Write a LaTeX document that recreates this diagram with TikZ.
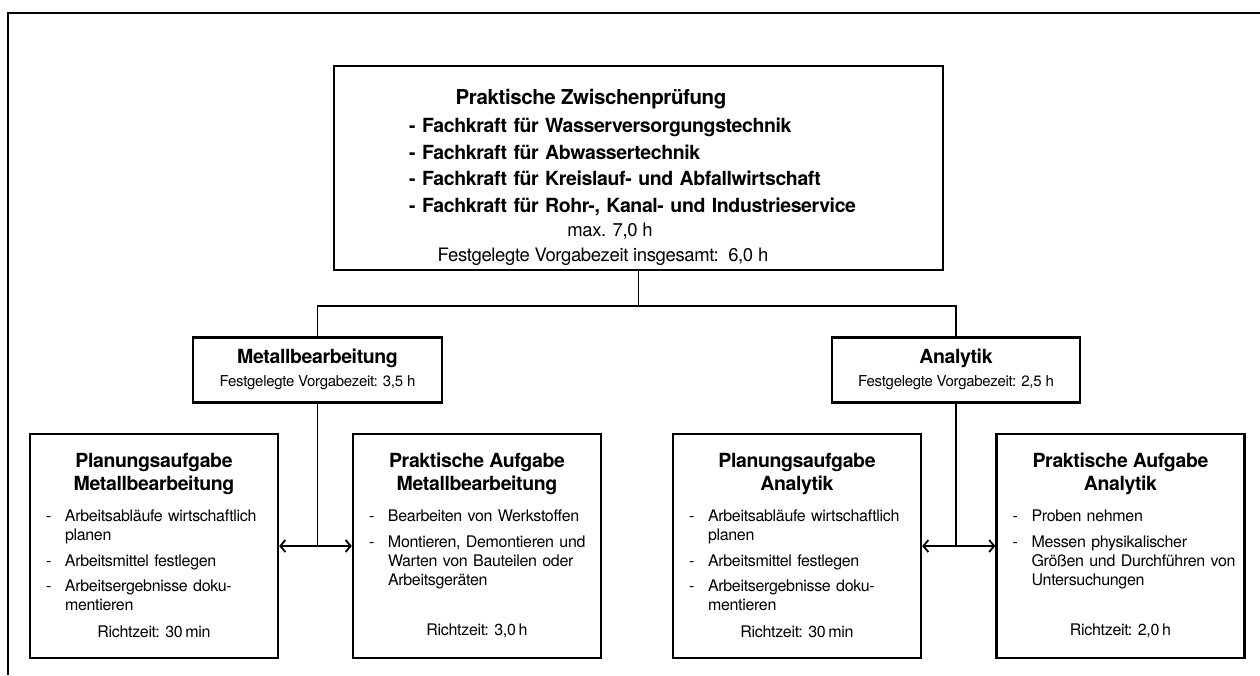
\documentclass[tikz,border=0pt]{standalone}
\usepackage{fontspec}
\setmainfont{TeX Gyre Heros}[LetterSpace=-2]
\usetikzlibrary{arrows.meta,positioning}

\newcommand{\strich}{\makebox[19pt][l]{-}}
\newcommand{\einzug}{\hspace*{19pt}}

\tikzset{
  frame/.style={line width=2.2pt},
  box/.style={draw, line width=2.4pt, inner sep=0pt},
  link/.style={line width=1.8pt},
  head/.style={font=\bfseries\fontsize{19.5}{26.5}\selectfont, inner sep=0pt},
  norm/.style={font=\fontsize{18.5}{23}\selectfont, inner sep=0pt},
  teiltitel/.style={font=\bfseries\fontsize{19.5}{22}\selectfont, inner sep=0pt},
  teilzeit/.style={font=\fontsize{15}{16}\selectfont, inner sep=0pt},
  aufgabe/.style={font=\bfseries\fontsize{19.5}{23}\selectfont, align=center, inner sep=0pt},
  punkte/.style={font=\fontsize{16}{19}\selectfont, text width=260pt, align=left, inner sep=0pt},
  richt/.style={font=\fontsize{16}{19}\selectfont, inner sep=0pt}
}

\begin{document}
\begin{tikzpicture}[x=1pt,y=-1pt,>={Straight Barb[length=5pt,width=12pt]}]
  \useasboundingbox (0,0) rectangle (1260,675);
  \draw[frame] (8,675) -- (8,13) -- (1260,13);

  % Zwischenpruefung
  \node[box, minimum width=609pt, minimum height=204pt] (zp) at (638.5,168) {};
  \node[head, font=\bfseries\fontsize{20.5}{26}\selectfont] (zptitel) at (591,99) {Praktische Zwischenprüfung};
  \node[head, anchor=north west, text width=480pt, align=left] (zpberufe) at (409,118)
    {- Fachkraft für Wasserversorgungstechnik\\
     - Fachkraft für Abwassertechnik\\
     - Fachkraft für Kreislauf- und Abfallwirtschaft\\
     - Fachkraft für Rohr-, Kanal- und Industrieservice};
  \node[norm] (zpmax) at (610,231) {max. 7,0 h};
  \node[norm] (zpzeit) at (603,257) {Festgelegte Vorgabezeit insgesamt:\ \ 6,0 h};

  % Bereiche
  \node[box, minimum width=249pt, minimum height=65pt] (metall) at (317.5,370) {};
  \node[teiltitel, below=12pt of metall.north] (metalltitel) {Metallbearbeitung};
  \node[teilzeit, below=8pt of metalltitel] (metallzeit) {Festgelegte Vorgabezeit: 3,5 h};

  \node[box, minimum width=248pt, minimum height=65pt] (ana) at (956,370) {};
  \node[teiltitel, below=12pt of ana.north] (anatitel) {Analytik};
  \node[teilzeit, below=8pt of anatitel] (anazeit) {Festgelegte Vorgabezeit: 2,5 h};

  % Aufgaben
  \node[box, minimum width=248pt, minimum height=224pt] (plan1) at (154,546) {};
  \node[box, minimum width=248pt, minimum height=224pt] (prak1) at (477,546) {};
  \node[box, minimum width=248pt, minimum height=224pt] (plan2) at (797,546) {};
  \node[box, minimum width=248pt, minimum height=224pt] (prak2) at (1120.5,546) {};

  \node[aufgabe, below=20pt of plan1.north] (plan1titel) {Planungsaufgabe\\Metallbearbeitung};
  \node[aufgabe, below=20pt of prak1.north] (prak1titel) {Praktische Aufgabe\\Metallbearbeitung};
  \node[aufgabe, below=20pt of plan2.north] (plan2titel) {Planungsaufgabe\\Analytik};
  \node[aufgabe, below=20pt of prak2.north] (prak2titel) {Praktische Aufgabe\\Analytik};

  \node[punkte, anchor=north west] (plan1punkte) at ([xshift=17pt,yshift=-77pt]plan1.north west)
    {\strich Arbeitsabläufe wirtschaftlich\\ \einzug planen\\[6.5pt]
     \strich Arbeitsmittel festlegen\\[6.5pt]
     \strich Arbeitsergebnisse doku-\\ \einzug mentieren};
  \node[punkte, anchor=north west] (prak1punkte) at ([xshift=17pt,yshift=-77pt]prak1.north west)
    {\strich Bearbeiten von Werkstoffen\\[6.5pt]
     \strich Montieren, Demontieren und\\ \einzug Warten von Bauteilen oder\\ \einzug Arbeitsgeräten};
  \node[punkte, anchor=north west] (plan2punkte) at ([xshift=17pt,yshift=-77pt]plan2.north west)
    {\strich Arbeitsabläufe wirtschaftlich\\ \einzug planen\\[6.5pt]
     \strich Arbeitsmittel festlegen\\[6.5pt]
     \strich Arbeitsergebnisse doku-\\ \einzug mentieren};
  \node[punkte, anchor=north west] (prak2punkte) at ([xshift=17pt,yshift=-77pt]prak2.north west)
    {\strich Proben nehmen\\[6.5pt]
     \strich Messen physikalischer\\ \einzug Größen und Durchführen von\\ \einzug Untersuchungen};

  \node[richt, above=21pt of plan1.south] (plan1zeit) {Richtzeit: 30\,min};
  \node[richt, above=21pt of prak1.south] (prak1zeit) {Richtzeit: 3,0\,h};
  \node[richt, above=21pt of plan2.south] (plan2zeit) {Richtzeit: 30\,min};
  \node[richt, above=21pt of prak2.south] (prak2zeit) {Richtzeit: 2,0\,h};

  % Verbindungen
  \coordinate (gabel) at ([yshift=-35pt]zp.south);
  \draw[link] (zp.south) -- (gabel) -| (metall.north);
  \draw[link] (gabel) -| (ana.north);

  \coordinate (mitte1) at (metall.south |- plan1.east);
  \coordinate (mitte2) at (ana.south |- plan2.east);
  \draw[link] (metall.south) -- (mitte1);
  \draw[link,<->] (plan1.east) -- (prak1.west);
  \draw[link] (ana.south) -- (mitte2);
  \draw[link,<->] (plan2.east) -- (prak2.west);
\end{tikzpicture}
\end{document}
